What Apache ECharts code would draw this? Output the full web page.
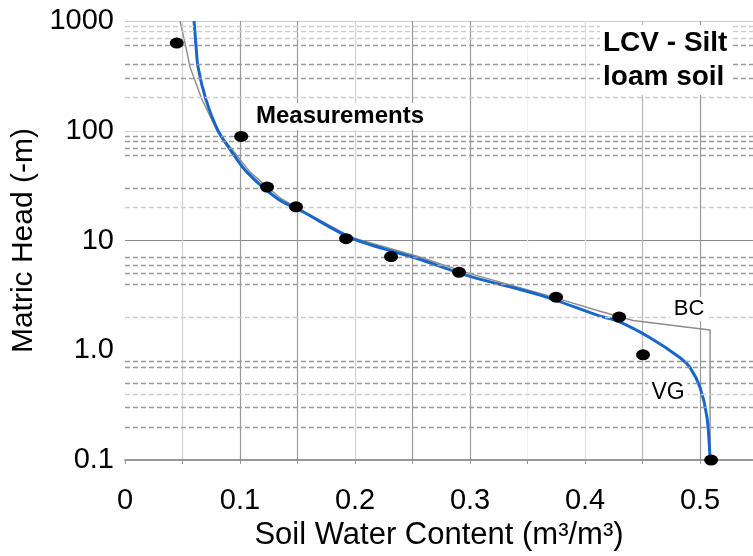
<!DOCTYPE html>
<html><head><meta charset="utf-8">
<script src="https://cdn.jsdelivr.net/npm/echarts@6/dist/echarts.min.js"></script>
<style>html,body{margin:0;padding:0;background:#fff}#c{width:753px;height:556px}</style>
</head><body><div id="c"></div>
<script>
const xTickLabels = ['0','0.1','0.2','0.3','0.4','0.5'];
const yTickLabels = ['0.1','1.0','10','100','1000'];
const measurements = [[0.045,629],[0.101,88.8],[0.1235,30.7],[0.1487,20.3],[0.1922,10.4],[0.2313,7.15],[0.2904,5.13],[0.3748,3.05],[0.4296,2.01],[0.4504,0.91],[0.5096,0.1]];
const vgCurve = [[0.0600,1000],[0.0617,603],[0.0635,381],[0.0704,192],[0.0809,100],[0.0913,67.8],[0.106,42],[0.133,23.9],[0.155,18.2],[0.198,10.4],[0.254,6.86],[0.300,4.72],[0.361,3.18],[0.413,2.05],[0.428,1.85],[0.4565,1.30],[0.4826,0.855],[0.4913,0.695],[0.500,0.458],[0.506,0.245],[0.5087,0.1]];
const bcCurve = [[0.0478,1000],[0.0522,629],[0.0565,381],[0.067,192],[0.080,100],[0.093,67.8],[0.1087,42],[0.135,24.4],[0.1565,18.2],[0.197,10.7],[0.254,7.2],[0.300,5.0],[0.361,3.3],[0.413,2.27],[0.4417,1.87],[0.5087,1.53],[0.5087,0.1]];
const minorGridDark = [0.2,0.3,0.5,0.7,0.8,4,5,6,7,30,60,70,80,90,300,400,600];
const minorGridLight = [0.4,2,20,200,700,800,900];
const annotations = [
  {text:'LCV - Silt\nloam soil', x:600, y:25, align:'left', font:'bold 28px "Liberation Sans", Arial, sans-serif', lh:34},
  {text:'Measurements', x:340, y:103, align:'center', font:'bold 24px "Liberation Sans", Arial, sans-serif', lh:25},
  {text:'BC', x:689, y:297, align:'center', font:'22px "Liberation Sans", Arial, sans-serif', lh:22},
  {text:'VG', x:668, y:380, align:'center', font:'23px "Liberation Sans", Arial, sans-serif', lh:24}
];

const FONT = '"Liberation Sans", Arial, sans-serif';
const chart = echarts.init(document.getElementById('c'), null, {renderer:'canvas'});
const minorLines = minorGridDark.map(v => ({yAxis:v, lineStyle:{color:'#9a9a9a'}}))
  .concat(minorGridLight.map(v => ({yAxis:v, lineStyle:{color:'#cfcfcf'}})));

chart.setOption({
  animation:false,
  backgroundColor:'#fff',
  grid:{left:125, right:0, top:21, bottom:93, containLabel:false},
  xAxis:{
    type:'value', min:0, max:0.546, interval:0.05,
    name:'Soil Water Content (m³/m³)', nameLocation:'middle', nameGap:59,
    nameTextStyle:{fontFamily:FONT, fontSize:31, color:'#000'},
    axisLine:{show:true, lineStyle:{color:'#777', width:1.5}},
    axisTick:{show:true, length:4, lineStyle:{color:'#999'}},
    axisLabel:{fontFamily:FONT, fontSize:29, color:'#000', margin:26, showMaxLabel:false,
      formatter:(v,i)=> i%2===0 && i/2 < xTickLabels.length ? xTickLabels[i/2] : ''},
    splitLine:{show:true, lineStyle:{width:1.2, color:['rgba(0,0,0,0)','#d0d0d0','#9a9a9a','#9a9a9a','#d0d0d0','#9a9a9a','#9a9a9a','#f0f0f0','#e0e0e0','#b5b5b5','#9a9a9a','rgba(0,0,0,0)']}}
  },
  yAxis:{
    type:'log', logBase:10, min:0.1, max:1000,
    name:'Matric Head (-m)', nameLocation:'middle', nameGap:81, nameRotate:90,
    nameTextStyle:{fontFamily:FONT, fontSize:30, color:'#000'},
    axisLine:{show:false}, axisTick:{show:false},
    axisLabel:{fontFamily:FONT, fontSize:29, color:'#000', margin:11,
      formatter:(v,i)=> yTickLabels[i] !== undefined ? yTickLabels[i] : ''},
    splitLine:{show:true, lineStyle:{width:1.2, color:['rgba(0,0,0,0)','rgba(0,0,0,0)','#8a8a8a','#d8d8d8','#cfcfcf']}}
  },
  series:[
    {type:'line', data:[], silent:true,
      markLine:{silent:true, symbol:'none', label:{show:false}, animation:false,
        lineStyle:{type:[5,3], width:1.3}, data:minorLines}},
    {type:'line', name:'BC', data:bcCurve, smooth:false, showSymbol:false, z:3,
      lineStyle:{color:'#8c8c8c', width:1.4}},
    {type:'line', name:'VG', data:vgCurve, smooth:0.3, showSymbol:false, z:4,
      lineStyle:{color:'#1766c9', width:3}},
    {type:'scatter', name:'Measurements', data:measurements, symbol:'circle', symbolSize:[14,11], z:5,
      itemStyle:{color:'#000', opacity:1}}
  ],
  graphic: annotations.map(a => ({
    type:'text', z:100,
    x:a.x, y:a.y,
    style:{text:a.text, font:a.font, fill:'#000', align:a.align, verticalAlign:'top',
      lineHeight:a.lh, backgroundColor:'#fff', padding:[1,3]}
  }))
});
</script></body></html>
